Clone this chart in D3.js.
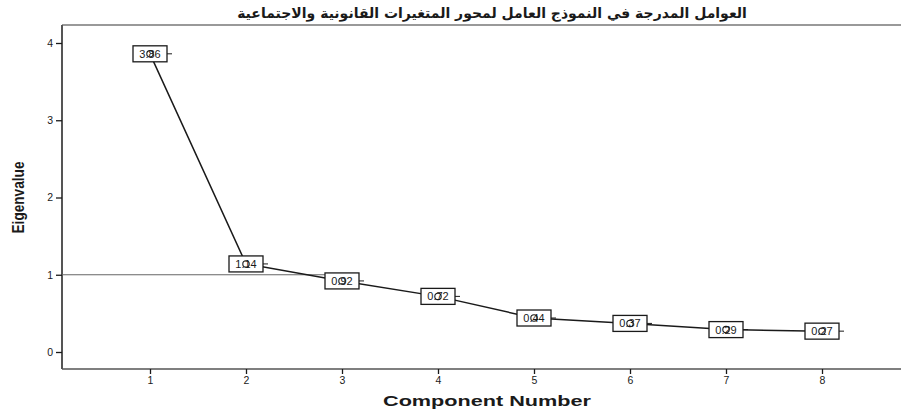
<!DOCTYPE html>
<html>
<head>
<meta charset="utf-8">
<script src="https://cdn.jsdelivr.net/npm/d3@7"></script>
<style>
  html, body { margin: 0; padding: 0; background: #fff; }
  svg { display: block; }
</style>
</head>
<body>
<svg id="chart" width="901" height="410"></svg>
<script>
// Scree plot data: eigenvalue for each extracted component
const components = [1, 2, 3, 4, 5, 6, 7, 8];
const eigenvalues = [3.86, 1.14, 0.92, 0.72, 0.44, 0.37, 0.29, 0.27];
const yTicks = [0, 1, 2, 3, 4];
const titleText = "العوامل المدرجة في النموذج العامل لمحور المتغيرات القانونية والاجتماعية";
const xTitle = "Component Number";
const yTitle = "Eigenvalue";

const svg = d3.select("#chart");
const frame = { left: 62, top: 25, right: 901, bottom: 369 };

const x = d3.scaleLinear().domain([1, 8]).range([150, 822]);
const y = d3.scaleLinear().domain([0, 4]).range([352, 43]);

const ink = "#1a1a1a";
const axisGrey = "#555";

// Title
svg.append("text")
  .attr("x", 492).attr("y", 18)
  .attr("text-anchor", "middle")
  .attr("direction", "rtl")
  .attr("font-family", "'DejaVu Sans', 'Noto Sans', sans-serif")
  .attr("font-weight", "bold")
  .attr("font-size", 14)
  .attr("fill", ink)
  .text(titleText);

// Plot frame: top rule, left and bottom axis lines
svg.append("line")
  .attr("x1", frame.left).attr("x2", frame.right)
  .attr("y1", frame.top).attr("y2", frame.top)
  .attr("stroke", "#777").attr("stroke-width", 1.5);
svg.append("line")
  .attr("x1", frame.left).attr("x2", frame.left)
  .attr("y1", frame.top).attr("y2", frame.bottom)
  .attr("stroke", axisGrey).attr("stroke-width", 2);
svg.append("line")
  .attr("x1", frame.left).attr("x2", frame.right)
  .attr("y1", frame.bottom).attr("y2", frame.bottom)
  .attr("stroke", axisGrey).attr("stroke-width", 1.5);

// Axes
const xAxis = d3.axisBottom(x).tickValues(components).tickSize(5).tickPadding(3).tickFormat(d3.format("d"));
const gx = svg.append("g").attr("transform", `translate(0,${frame.bottom})`).call(xAxis);
gx.select(".domain").remove();

const yAxis = d3.axisLeft(y).tickValues(yTicks).tickSize(6).tickPadding(3).tickFormat(d3.format("d"));
const gy = svg.append("g").attr("transform", `translate(${frame.left},0)`).call(yAxis);
gy.select(".domain").remove();

[gx, gy].forEach(g => {
  g.selectAll(".tick line").attr("stroke", ink).attr("stroke-width", 1.3);
  g.selectAll(".tick text")
    .attr("font-family", "'Liberation Sans', Arial, sans-serif")
    .attr("font-size", 10.5)
    .attr("fill", ink);
});

// Reference line at eigenvalue = 1
svg.append("line")
  .attr("x1", frame.left).attr("x2", x(3.16))
  .attr("y1", y(1)).attr("y2", y(1))
  .attr("stroke", "#666").attr("stroke-width", 1.2);

// Axis titles
svg.append("text")
  .attr("x", 487).attr("y", 406)
  .attr("text-anchor", "middle")
  .attr("font-family", "'Liberation Sans', Arial, sans-serif")
  .attr("font-weight", "bold")
  .attr("font-size", 15.5)
  .attr("textLength", 208)
  .attr("lengthAdjust", "spacingAndGlyphs")
  .attr("fill", ink)
  .text(xTitle);

// Condensed vertical title
svg.append("text")
  .attr("transform", `translate(24,${y(2)}) rotate(-90)`)
  .attr("text-anchor", "middle")
  .attr("font-family", "'Liberation Sans', Arial, sans-serif")
  .attr("font-weight", "bold")
  .attr("font-size", 17)
  .attr("textLength", 72)
  .attr("lengthAdjust", "spacingAndGlyphs")
  .attr("fill", ink)
  .text(yTitle);

// Scree line
const pts = components.map((c, i) => ({ c, v: eigenvalues[i] }));
svg.append("path")
  .datum(pts)
  .attr("fill", "none")
  .attr("stroke", ink)
  .attr("stroke-width", 1.5)
  .attr("d", d3.line().x(d => x(d.c)).y(d => y(d.v)));

// Value labels in boxes, with the point marker on top
const fmt = d3.format(".2f");
const lab = svg.append("g").selectAll("g").data(pts).join("g")
  .attr("transform", d => `translate(${x(d.c)},${y(d.v)})`);

lab.append("line")
  .attr("x1", 0).attr("x2", 22)
  .attr("y1", 0).attr("y2", 0)
  .attr("stroke", ink).attr("stroke-width", 1);

lab.append("rect")
  .attr("x", -17).attr("y", -8)
  .attr("width", 34).attr("height", 16)
  .attr("fill", "#fff")
  .attr("stroke", ink)
  .attr("stroke-width", 1.3);

lab.append("text")
  .attr("x", 0).attr("y", 4)
  .attr("text-anchor", "middle")
  .attr("font-family", "'Liberation Sans', Arial, sans-serif")
  .attr("font-size", 11)
  .attr("fill", ink)
  .text(d => fmt(d.v));

lab.append("circle")
  .attr("cx", 0).attr("cy", 0)
  .attr("r", 3.2)
  .attr("fill", "none")
  .attr("stroke", ink)
  .attr("stroke-width", 1.1);
</script>
</body>
</html>
